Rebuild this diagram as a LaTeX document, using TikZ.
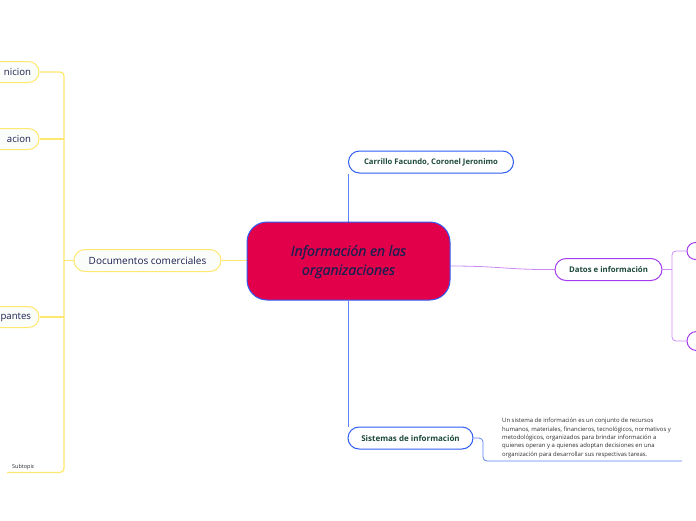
\documentclass[tikz,border=0pt]{standalone}
\usepackage{fontspec}
\setmainfont{Open Sans}
\newfontfamily\centralfont{Open Sans}[ItalicFeatures={FakeBold=0.7}]
\usetikzlibrary{backgrounds}
\definecolor{crim}{HTML}{E2004B}
\definecolor{bblue}{HTML}{2F5CF5}
\definecolor{lblue}{HTML}{5A82F7}
\definecolor{navy}{HTML}{1C2050}
\definecolor{dgreen}{HTML}{1D4A3A}
\definecolor{yell}{HTML}{FFE86E}
\definecolor{purp}{HTML}{A43BEF}
\definecolor{lpurp}{HTML}{C98AF3}
\definecolor{offw}{HTML}{FBFDFB}
\definecolor{dtext}{HTML}{2B2B2B}
\tikzset{
  centralbox/.style={draw=bblue, line width=1pt, fill=crim, rounded corners=20pt, minimum width=203pt, minimum height=78pt, align=center, text=navy, font=\fontsize{14}{19}\centralfont\itshape, inner sep=0pt},
  bluebox/.style={draw=bblue, line width=1pt, fill=white, rounded corners=11pt, minimum height=22pt, text=dgreen, font=\fontsize{7.7}{9}\selectfont\bfseries, inner sep=0pt},
  purpbox/.style={draw=purp, line width=1pt, fill=white, rounded corners=11pt, minimum height=22pt, text=dgreen, font=\fontsize{7.8}{9}\selectfont\bfseries, inner sep=0pt},
  yelbox/.style={draw=yell, line width=1pt, fill=offw, rounded corners=11pt, minimum height=22pt, text=navy, font=\fontsize{10}{12}\selectfont, inner sep=0pt},
  leftbox/.style={yelbox, minimum width=80pt, text width=64pt, align=right, minimum height=21pt, rounded corners=10.5pt, font=\fontsize{9.6}{12}\selectfont},
  bline/.style={draw=lblue, line width=0.8pt},
  yline/.style={draw=yell, line width=1.2pt},
  pline/.style={draw=lpurp, line width=0.8pt},
}
\begin{document}
\begin{tikzpicture}[x=1pt,y=-1pt]
\useasboundingbox (0,0) rectangle (696,520);
\clip (0,0) rectangle (696,520);
% central
\node[centralbox, text depth=2pt] (c) at (348.5,261) {Información en las\\organizaciones};
% blue children
\node[bluebox, minimum width=165pt] (carr) at (431,162) {Carrillo Facundo, Coronel Jeronimo};
\node[bluebox, minimum width=125pt, font=\fontsize{8}{10}\selectfont\bfseries] (sis) at (410.5,438) {Sistemas de información};
\node[anchor=north west, inner sep=0pt, text=dtext, font=\fontsize{5.95}{8.4}\selectfont, align=left] (sistxt) at (502,418) {Un sistema de información es un conjunto de recursos\\humanos, materiales, financieros, tecnológicos, normativos y\\metodológicos, organizados para brindar información a\\quienes operan y a quienes adoptan decisiones en una\\organización para desarrollar sus respectivas tareas.};
\coordinate (sisend) at (682,461);
% purple
\node[purpbox, minimum width=107pt] (datos) at (608.5,269.5) {Datos e información};
\node[purpbox, minimum width=60pt, minimum height=17pt, rounded corners=8.5pt] (p1) at (717,251) {};
\node[purpbox, minimum width=60pt, minimum height=19pt, rounded corners=9.5pt] (p2) at (717,341) {};
% yellow
\node[yelbox, minimum width=147pt] (doc) at (147.5,260.5) {Documentos comerciales};
\node[leftbox] (y1) at (-1,72) {nicion};
\node[leftbox] (y2) at (-1,139) {acion};
\node[leftbox] (y3) at (-1,317) {pantes};
\node[inner sep=0pt, anchor=base west, text=dtext, font=\fontsize{5.5}{7}\selectfont] (sub) at (12,468.5) {Subtopic};
\coordinate (subend) at (7,472.5);
\begin{scope}[on background layer]
  \draw[bline] (c.north) -- (c.north |- carr.south);
  \draw[bline] (c.south) -- (c.south |- sis.north);
  \draw[bline, rounded corners=4pt] (sis.east) -- (483,438) -- (483,461) -- (sisend);
  \draw[pline] (c.east |- 0,266) .. controls (500,266) and (510,270) .. (datos.west);
  \draw[pline] (datos.east) -- (672,269.5);
  \draw[pline, rounded corners=4pt] (p1.west) -- (672,251) -- (672,341) -- (p2.west);
  \draw[yline] (c.west |- doc.east) -- (doc.east);
  \draw[yline] (doc.west) -- (64,260.5);
  \draw[yline, rounded corners=4pt] (y1.east) -- (64,72) -- (64,472.5) -- (subend);
  \draw[yline] (y2.east) -- (64,139);
  \draw[yline] (y3.east) -- (64,317);
\end{scope}
\end{tikzpicture}
\end{document}
